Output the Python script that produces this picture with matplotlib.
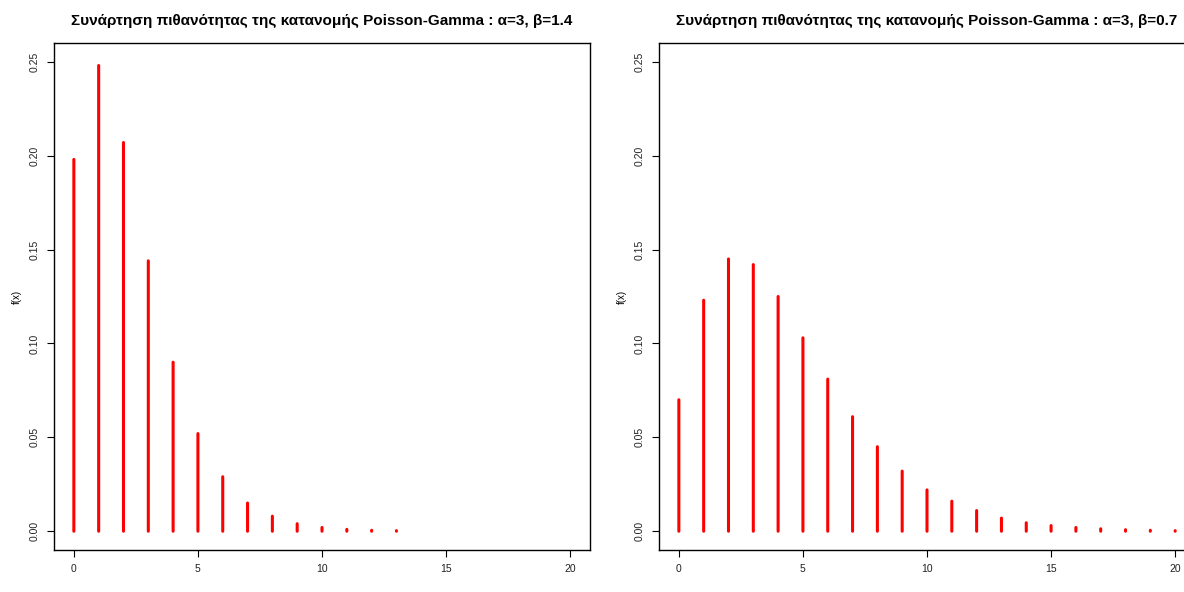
import numpy as np
import matplotlib.pyplot as plt

plt.rcParams['font.family'] = ['Liberation Sans', 'DejaVu Sans']

x_left = np.arange(0, 14)
f_left = [0.198, 0.248, 0.207, 0.144, 0.090, 0.052, 0.029, 0.015, 0.008,
          0.004, 0.002, 0.001, 0.0005, 0.0003]

x_right = np.arange(0, 21)
f_right = [0.070, 0.123, 0.145, 0.142, 0.125, 0.103, 0.081, 0.061, 0.045,
           0.032, 0.022, 0.016, 0.011, 0.007, 0.0045, 0.003, 0.002, 0.0013,
           0.0008, 0.0005, 0.0003]

titles = ['Συνάρτηση πιθανότητας της κατανομής Poisson-Gamma : α=3, β=1.4',
          'Συνάρτηση πιθανότητας της κατανομής Poisson-Gamma : α=3, β=0.7']

W, H = 1184, 592
fig = plt.figure(figsize=(W / 100, H / 100), dpi=100)

# axes boxes in pixels: left, top, right, bottom
boxes = [(54, 43, 590, 550), (659, 43, 1195, 550)]
data = [(x_left, f_left), (x_right, f_right)]

for (l, t, r, b), (xs, fs), title in zip(boxes, data, titles):
    ax = fig.add_axes([l / W, 1 - b / H, (r - l) / W, (b - t) / H])
    lc = ax.vlines(xs, 0, fs, color='red', lw=2.2, snap=False)
    lc.set_capstyle('round')
    ax.set_xlim(-0.8, 20.8)
    ax.set_ylim(-0.01, 0.26)
    ax.set_xticks([0, 5, 10, 15, 20])
    ax.set_yticks([0.0, 0.05, 0.10, 0.15, 0.20, 0.25])
    ax.set_yticklabels(['0.00', '0.05', '0.10', '0.15', '0.20', '0.25'],
                       rotation=90, va='center')
    ax.tick_params(labelsize=7.5, length=5, width=0.8, colors='black',
                   labelcolor='#222222', pad=5)
    for s in ax.spines.values():
        s.set_linewidth(1.0)
    ax.set_title(title, fontsize=11, fontweight='bold', pad=13)
    ax.set_ylabel('f(x)', fontsize=7, labelpad=6)
    ax.set_xlabel('x', fontsize=7, labelpad=17)

fig.savefig('out.png', dpi=100)
